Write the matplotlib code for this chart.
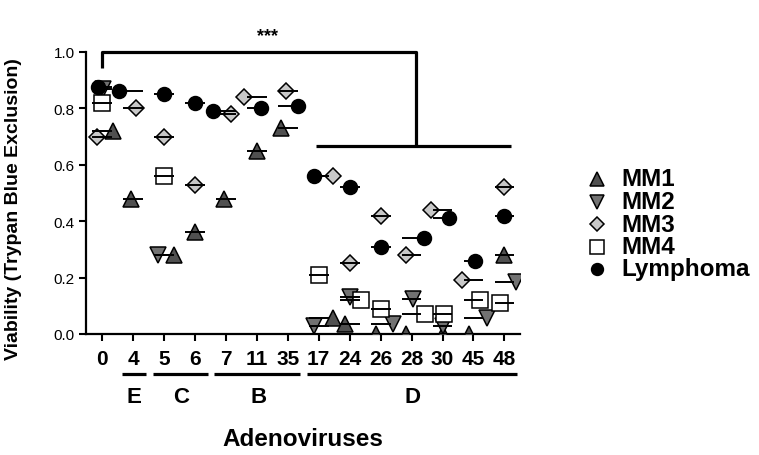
import matplotlib.pyplot as plt
import numpy as np
from matplotlib.lines import Line2D

plt.rcParams['font.family'] = ['Liberation Sans', 'DejaVu Sans']

# adenovirus serotypes (x categories)
viruses = ["0", "4", "5", "6", "7", "11", "35", "17", "24", "26", "28", "30", "45", "48"]
nan = np.nan

# viability per cell line
mm1 = [0.72, 0.48, 0.28, 0.36, 0.48, 0.65, 0.73, 0.055, 0.035, 0.0, 0.0, 0.0, 0.0, 0.28]
mm2 = [0.87, nan, 0.28, nan, nan, nan, nan, 0.03, 0.13, 0.035, 0.125, 0.03, 0.055, 0.185]
mm3 = [0.70, 0.80, 0.70, 0.53, 0.78, 0.84, 0.86, 0.56, 0.25, 0.42, 0.28, 0.44, 0.19, 0.52]
mm4 = [0.82, nan, 0.56, nan, nan, nan, nan, 0.21, 0.12, 0.09, 0.07, 0.07, 0.12, 0.11]
lymphoma = [0.875, 0.86, 0.85, 0.82, 0.79, 0.80, 0.81, 0.56, 0.52, 0.31, 0.34, 0.41, 0.26, 0.42]

# horizontal scatter of the symbols (category units)
mm1_dx = [0.35, -0.07, 0.33, 0, -0.05, 0, -0.22, 0.45, -0.15, -0.15, -0.17, 0, -0.13, 0]
mm2_dx = [0.03, 0, -0.2, 0, 0, 0, 0, -0.15, 0, 0.4, 0.05, 0, 0.45, 0.38]
mm3_dx = [-0.17, 0.1, 0, 0, 0.15, -0.4, -0.05, 0.45, 0, 0, -0.17, -0.37, -0.37, 0]
mm4_dx = [0, 0, 0, 0, 0, 0, 0, 0, 0.38, 0, 0.42, 0.05, 0.22, -0.15]
lym_dx = [-0.12, -0.45, 0, 0, -0.42, 0.15, 0.33, -0.15, 0, 0, 0.4, 0.2, 0.05, 0]

# virus species groups: (letter, first idx, last idx)
groups = [("E", 1, 1), ("C", 2, 3), ("B", 4, 6), ("D", 7, 13)]

series = [
    ("MM1", mm1, mm1_dx, "^", "#505050", 12),
    ("MM2", mm2, mm2_dx, "v", "#727272", 12),
    ("MM3", mm3, mm3_dx, "D", "#c8c8c8", 8.5),
    ("MM4", mm4, mm4_dx, "s", "white", 11.5),
    ("Lymphoma", lymphoma, lym_dx, "o", "black", 10),
]

fig = plt.figure(figsize=(7.59, 4.56), dpi=100)
ax = fig.add_axes([0.1133, 0.2654, 0.5717, 0.6184])

x = np.arange(len(viruses))
for name, vals, dx, mk, col, ms in series:
    vals = np.array(vals)
    ax.plot(x + np.array(dx), vals, ls="none", marker=mk, ms=ms, mfc=col,
            mec="black", mew=1.1, zorder=3)
    ax.hlines(vals, x - 0.32, x + 0.32, color="black", lw=1.4, zorder=4)

ax.set_xlim(-0.52, 13.5)
ax.set_ylim(0, 1.0)
ax.set_xticks(x)
ax.set_xticklabels(viruses, fontsize=15, fontweight="bold")
ax.set_yticks(np.arange(0, 1.01, 0.2))
ax.set_yticklabels([f"{v:.1f}" for v in np.arange(0, 1.01, 0.2)], fontsize=11)
ax.tick_params(axis="x", length=5, width=1.5, pad=6)
ax.tick_params(axis="y", length=5, width=1.5, pad=3)
for s in ["top", "right"]:
    ax.spines[s].set_visible(False)
for s in ["left", "bottom"]:
    ax.spines[s].set_linewidth(1.6)

ax.set_ylabel("Viability (Trypan Blue Exclusion)", fontsize=14, fontweight="bold")
ax.yaxis.set_label_coords(-0.148, 0.447)

# significance bracket
kw = dict(color="black", lw=2.3, clip_on=False, solid_capstyle="butt")
ax.plot([0, 0, 10.13, 10.13], [0.943, 1.0, 1.0, 0.668], **kw)
ax.plot([6.9, 13.2], [0.668, 0.668], **kw)
ax.text(5.35, 1.058, "***", ha="center", va="center", fontsize=13, fontweight="bold")

# group underlines and letters
for letter, i0, i1 in groups:
    ax.plot([i0 - 0.37, i1 + 0.41], [-0.142, -0.142], **kw)
    ax.text((i0 + i1) / 2 + 0.04, -0.22, letter, ha="center", va="center",
            fontsize=16, fontweight="bold")

fig.text(303 / 759, 1 - 440 / 456, "Adenoviruses", ha="center", va="center",
         fontsize=17.5, fontweight="bold")

# legend
for k, (name, vals, dx, mk, col, ms) in enumerate(series):
    yy = 1 - (180 + 22.5 * k) / 456
    fig.add_artist(Line2D([597 / 759], [yy], transform=fig.transFigure, marker=mk,
                          ms=ms * 0.85, mfc=col, mec="black", mew=1.1, ls="none"))
    fig.text(621 / 759, yy, name, ha="left", va="center", fontsize=17.5,
             fontweight="bold")

fig.savefig("out.png", dpi=100)
